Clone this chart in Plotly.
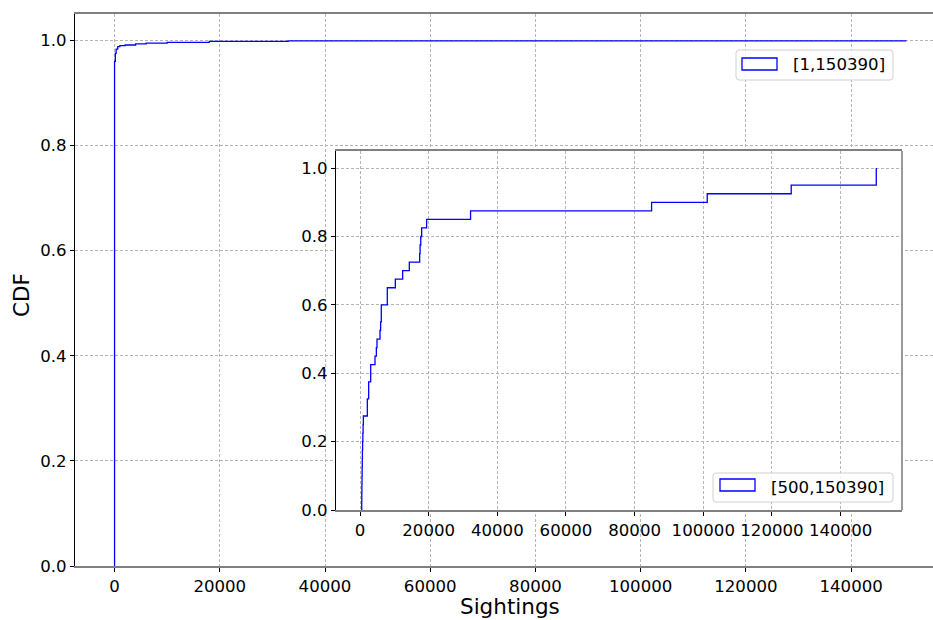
import plotly.graph_objects as go

# ---------------- data ----------------
# main CDF of all sightings, range [1,150390]: (sightings, cumulative fraction)
main_sightings = [1, 150, 300, 600, 1000, 2000, 4000, 6000, 10000, 18000, 33000, 150390]
main_cdf = [0.960, 0.975, 0.983, 0.988, 0.990, 0.991, 0.993, 0.9945, 0.996, 0.998, 0.999, 1.0]

# inset: the 40 sighting counts >= 500 (sorted)
inset_sightings = [500, 520, 550, 580, 620, 660, 700, 760, 820, 900, 980,
                   2130, 2130, 2520, 2520, 3110, 3110, 4370, 4760, 4950,
                   5820, 6000, 6200, 6200, 7950, 7950, 10290, 12420, 14360,
                   17380, 17500, 17700, 17960, 19400, 32200, 84940, 101150,
                   125610, 150390, 150390]

main_label = "[1,150390]"
inset_label = "[500,150390]"
x_ticks = [0, 20000, 40000, 60000, 80000, 100000, 120000, 140000]
y_ticks = [0.0, 0.2, 0.4, 0.6, 0.8, 1.0]
x_title = "Sightings"
y_title = "CDF"

# ---------------- geometry ----------------
W, H = 933, 620
L, R, T, B = 75, 933, 14, 566          # main plot area in pixels
PW, PH = R - L, B - T


def px(xp):
    return (xp - L) / PW


def py(yp):
    return (B - yp) / PH


FONT = "DejaVu Sans"
TICK_SIZE = 16.6
BLUE = "#0000ff"
GRID = "#b4b4b4"
SPINE_GRAY = "#808080"

# main step curve (start from zero)
mx = [main_sightings[0]] + main_sightings
my = [0.0] + main_cdf

# inset ECDF
n = len(inset_sightings)
ix = [inset_sightings[0]] + inset_sightings
iy = [0.0] + [(i + 1) / n for i in range(n)]

fig = go.Figure()
fig.add_trace(go.Scatter(x=mx, y=my, mode="lines", line=dict(color=BLUE, width=1.3, shape="hv"),
                         name=main_label, showlegend=False, xaxis="x", yaxis="y"))
fig.add_trace(go.Scatter(x=ix, y=iy, mode="lines", line=dict(color=BLUE, width=1.3, shape="hv"),
                         name=inset_label, showlegend=False, xaxis="x2", yaxis="y2"))

axis_common = dict(
    showgrid=True, gridcolor=GRID, gridwidth=0.8, griddash="3px,2px",
    zeroline=False, ticks="outside", ticklen=4, tickwidth=1, tickcolor="black",
    tickfont=dict(family=FONT, size=TICK_SIZE, color="black"),
)

xt = dict(tickvals=x_ticks, ticktext=[str(v) for v in x_ticks])
yt = dict(tickvals=y_ticks, ticktext=[f"{v:.1f}" for v in y_ticks])

fig.update_layout(
    width=W, height=H,
    margin=dict(l=L, r=W - R, t=T, b=H - B),
    paper_bgcolor="white", plot_bgcolor="white",
    showlegend=False,
    xaxis=dict(domain=[0, 1], range=[-7519, 155560], anchor="y",
               showline=True, linecolor=SPINE_GRAY, linewidth=1.6, mirror=True,
               **xt, **axis_common),
    yaxis=dict(domain=[0, 1], range=[0, 1.05], anchor="x",
               showline=True, linecolor="black", linewidth=1, mirror=False,
               **yt, **axis_common),
    xaxis2=dict(domain=[px(336), px(902)], range=[-6994.5, 157884.5], anchor="y2",
                showline=True, linecolor=SPINE_GRAY, linewidth=1.6, mirror=True,
                **xt, **axis_common),
    yaxis2=dict(domain=[py(510), py(151)], range=[0, 1.05], anchor="x2",
                showline=True, linecolor="black", linewidth=1, mirror=False,
                **yt, **axis_common),
)

shapes = []
# right spine of the inset (gray)
shapes.append(dict(type="line", xref="x2 domain", yref="y2 domain", x0=1, x1=1, y0=0, y1=1,
                   line=dict(color=SPINE_GRAY, width=1.6)))


def rounded_box(x0, y0, x1, y1, r=3):
    ax0, ax1 = px(x0), px(x1)
    ay0, ay1 = py(y0), py(y1)  # ay0 top (larger), ay1 bottom
    rx, ry = r / PW, r / PH
    return (f"M{ax0 + rx},{ay0} L{ax1 - rx},{ay0} Q{ax1},{ay0} {ax1},{ay0 - ry} "
            f"L{ax1},{ay1 + ry} Q{ax1},{ay1} {ax1 - rx},{ay1} "
            f"L{ax0 + rx},{ay1} Q{ax0},{ay1} {ax0},{ay1 + ry} "
            f"L{ax0},{ay0 - ry} Q{ax0},{ay0} {ax0 + rx},{ay0} Z")


annotations = []
for (bx0, by0, bx1, by1, p0, p1, q0, q1, tx, ty, label) in [
    (736, 50, 893, 80, 742, 777, 58, 70, 791, 65, main_label),
    (713, 473, 893, 502, 720, 755, 479, 491, 769, 487.5, inset_label),
]:
    shapes.append(dict(type="path", xref="paper", yref="paper", path=rounded_box(bx0, by0, bx1, by1),
                       fillcolor="rgba(255,255,255,0.85)", line=dict(color="#d0d0d0", width=1),
                       layer="above"))
    shapes.append(dict(type="rect", xref="paper", yref="paper", x0=px(p0), x1=px(p1),
                       y0=py(q1), y1=py(q0), fillcolor="rgba(0,0,0,0)",
                       line=dict(color=BLUE, width=1.3), layer="above"))
    annotations.append(dict(xref="paper", yref="paper", x=px(tx), y=py(ty), text=label,
                            showarrow=False, xanchor="left", yanchor="middle",
                            font=dict(family=FONT, size=TICK_SIZE, color="black")))

annotations.append(dict(xref="paper", yref="paper", x=px(510), y=py(606.5), text=x_title,
                        showarrow=False, xanchor="center", yanchor="middle",
                        font=dict(family=FONT, size=21.5, color="black")))
annotations.append(dict(xref="paper", yref="paper", x=px(22), y=py(295), text=y_title,
                        showarrow=False, xanchor="center", yanchor="middle", textangle=-90,
                        font=dict(family=FONT, size=21.5, color="black")))

fig.update_layout(shapes=shapes, annotations=annotations)
fig.write_html("out.html")
